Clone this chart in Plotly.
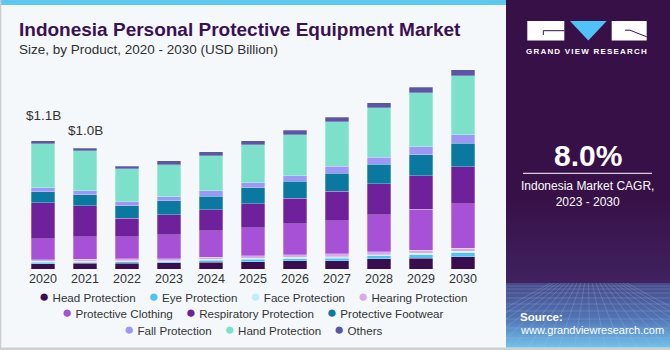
import base64
import plotly.graph_objects as go

# ---------------- data (USD Billion) ----------------
years = ["2020", "2021", "2022", "2023", "2024", "2025", "2026", "2027", "2028", "2029", "2030"]

head_protection = [0.046, 0.049, 0.049, 0.052, 0.058, 0.063, 0.069, 0.071, 0.086, 0.094, 0.106]
eye_protection = [0.012, 0.011, 0.014, 0.011, 0.017, 0.021, 0.020, 0.023, 0.026, 0.028, 0.032]
face_protection = [0.007, 0.008, 0.008, 0.009, 0.009, 0.010, 0.010, 0.011, 0.011, 0.012, 0.013]
hearing_protection = [0.015, 0.015, 0.015, 0.015, 0.017, 0.019, 0.022, 0.025, 0.026, 0.027, 0.029]
protective_clothing = [0.180, 0.192, 0.189, 0.209, 0.226, 0.243, 0.266, 0.284, 0.318, 0.352, 0.381]
respiratory_protection = [0.309, 0.269, 0.161, 0.172, 0.180, 0.204, 0.221, 0.255, 0.264, 0.287, 0.318]
protective_footwear = [0.095, 0.092, 0.106, 0.120, 0.120, 0.137, 0.146, 0.155, 0.168, 0.183, 0.200]
fall_protection = [0.032, 0.034, 0.034, 0.034, 0.043, 0.043, 0.048, 0.057, 0.060, 0.066, 0.075]
hand_protection = [0.381, 0.346, 0.284, 0.275, 0.301, 0.326, 0.352, 0.384, 0.424, 0.464, 0.504]
others = [0.023, 0.021, 0.023, 0.034, 0.037, 0.037, 0.038, 0.040, 0.043, 0.046, 0.054]

series_names = ["Head Protection", "Eye Protection", "Face Protection", "Hearing Protection",
                "Protective Clothing", "Respiratory Protection", "Protective Footwear",
                "Fall Protection", "Hand Protection", "Others"]
series_values = [head_protection, eye_protection, face_protection, hearing_protection,
                 protective_clothing, respiratory_protection, protective_footwear,
                 fall_protection, hand_protection, others]
series_colors = ["#3a0d4e", "#4ec5f1", "#c5eaf8", "#d8aaea", "#a651d6",
                 "#6f209b", "#0b799f", "#9d97f7", "#7de0ca", "#5a56a5"]

value_labels = {"2020": "$1.1B", "2021": "$1.0B"}
label_shift = {"2020": 16, "2021": 8}

title = "Indonesia Personal Protective Equipment Market"
subtitle = "Size, by Product, 2020 - 2030 (USD Billion)"
cagr_value = "8.0%"
cagr_text = "Indonesia Market CAGR,<br>2023 - 2030"

# ---------------- geometry helpers ----------------
W, H = 670, 350
L, R, T, B = 22, 186, 60, 81
PW, PH = W - L - R, H - T - B
FONT = "Liberation Sans, Arial, sans-serif"


def px(x):
    return (x - L) / PW


def py(y):
    return (H - B - y) / PH


fig = go.Figure()
for name, vals, col in zip(series_names, series_values, series_colors):
    fig.add_trace(go.Bar(
        x=years, y=vals, name=name, marker_color=col,
        marker_line=dict(color="rgba(255,255,255,0.45)", width=0.6),
        showlegend=False,
    ))

totals = [sum(v[i] for v in series_values) for i in range(len(years))]
annotations = []
for i, (yr, tot) in enumerate(zip(years, totals)):
    if yr in value_labels:
        annotations.append(dict(
            x=i, y=tot, xref="x", yref="y", text=value_labels[yr], showarrow=False,
            yanchor="bottom", yshift=label_shift[yr],
            font=dict(family=FONT, size=13.5, color="#333333")))

# title / subtitle
annotations.append(dict(x=px(17), y=py(29.5), xref="paper", yref="paper", text=f"<b>{title}</b>",
                        showarrow=False, xanchor="left", yanchor="middle",
                        font=dict(family=FONT, size=19, color="#3a1152")))
annotations.append(dict(x=px(17), y=py(49), xref="paper", yref="paper", text=subtitle,
                        showarrow=False, xanchor="left", yanchor="middle",
                        font=dict(family=FONT, size=13.5, color="#2f2f2f")))

# manual legend rows
nb = "\u00a0"
legend_rows = [[0, 1, 2, 3], [4, 5, 6], [7, 8, 9]]
row_y = [296.7, 312.7, 329]
for row, yy in zip(legend_rows, row_y):
    parts = [f"<span style='color:{series_colors[i]};font-size:17px'>\u25cf</span>{nb}{series_names[i]}"
             for i in row]
    annotations.append(dict(x=px(253), y=py(yy), xref="paper", yref="paper",
                            text=(nb * 4).join(parts), showarrow=False,
                            xanchor="center", yanchor="middle",
                            font=dict(family=FONT, size=11.6, color="#333333")))

# right panel texts
annotations += [
    dict(x=px(587), y=py(51), xref="paper", yref="paper",
         text="<span style='letter-spacing:1.2px'><b>GRAND VIEW RESEARCH</b></span>",
         showarrow=False, xanchor="center", yanchor="middle",
         font=dict(family=FONT, size=8, color="white")),
    dict(x=px(587.5), y=py(155.5), xref="paper", yref="paper", text=f"<b>{cagr_value}</b>",
         showarrow=False, xanchor="center", yanchor="middle",
         font=dict(family=FONT, size=30, color="white")),
    dict(x=px(587.5), y=py(193.5), xref="paper", yref="paper", text=cagr_text,
         showarrow=False, xanchor="center", yanchor="middle", align="center",
         font=dict(family=FONT, size=12, color="white")),
    dict(x=px(518), y=py(316.5), xref="paper", yref="paper", text="<b>Source:</b>",
         showarrow=False, xanchor="left", yanchor="middle",
         font=dict(family=FONT, size=11.5, color="white")),
    dict(x=px(518), y=py(329.5), xref="paper", yref="paper", text="www.grandviewresearch.com",
         showarrow=False, xanchor="left", yanchor="middle",
         font=dict(family=FONT, size=11, color="white")),
]

# ---------------- background artwork (SVG) ----------------
grid = []
for yy in [286, 289, 293, 298, 304, 311, 319, 328, 338]:
    grid.append(f"<line x1='506' y1='{yy}' x2='670' y2='{yy}'/>")
for xb in range(430, 760, 16):
    grid.append(f"<line x1='588' y1='262' x2='{xb}' y2='350'/>")
svg = f"""<svg xmlns='http://www.w3.org/2000/svg' width='{W}' height='{H}' viewBox='0 0 {W} {H}' preserveAspectRatio='none'>
<defs>
<linearGradient id='g1' x1='0' y1='0' x2='0' y2='1'>
<stop offset='0' stop-color='#381048'/><stop offset='0.70' stop-color='#381048'/>
<stop offset='1' stop-color='#40225f'/></linearGradient>
<linearGradient id='g2' x1='0' y1='0' x2='0' y2='1'>
<stop offset='0' stop-color='#474888'/><stop offset='0.55' stop-color='#5274b4'/>
<stop offset='1' stop-color='#72c2ec'/></linearGradient>
<clipPath id='cp'><rect x='506' y='283' width='164' height='64'/></clipPath>
</defs>
<rect x='0' y='0' width='{W}' height='{H}' fill='#f4f8fb'/>
<rect x='0' y='0' width='506' height='5' fill='#5dc9f1'/>
<rect x='0' y='0' width='1.3' height='{H}' fill='#cccccc'/>
<rect x='0' y='347.5' width='{W}' height='2.5' fill='#cfcfcf'/>
<rect x='506' y='0' width='164' height='283' fill='url(#g1)'/>
<rect x='506' y='283' width='164' height='64.5' fill='url(#g2)'/>
<g clip-path='url(#cp)' stroke='#a9c4ee' stroke-opacity='0.35' stroke-width='0.7'>{''.join(grid)}</g>
<rect x='527.3' y='21' width='37' height='19.5' fill='white'/>
<path d='M564.3,30.7 L543.3,30.7 L543.3,35' stroke='#381048' stroke-width='1' fill='none'/>
<polygon points='570,21 606.7,21 588.3,40.5' fill='#4fc3f7'/>
<rect x='611.7' y='21' width='35' height='19.5' fill='white'/>
<path d='M625,30.2 L630,30.2 L646.7,36.8' stroke='#381048' stroke-width='1' fill='none'/>
<line x1='523' y1='173.3' x2='652' y2='173.3' stroke='white' stroke-width='1'/>
</svg>"""
src = "data:image/svg+xml;base64," + base64.b64encode(svg.encode()).decode()

fig.update_layout(
    width=W, height=H, margin=dict(l=L, r=R, t=T, b=B, pad=0),
    barmode="stack", bargap=0.43,
    paper_bgcolor="#f4f8fb", plot_bgcolor="rgba(0,0,0,0)",
    showlegend=False,
    annotations=annotations,
    images=[dict(source=src, xref="paper", yref="paper", x=px(0), y=py(0),
                 sizex=W / PW, sizey=H / PH, xanchor="left", yanchor="top",
                 sizing="stretch", layer="below")],
    xaxis=dict(type="category", range=[-0.5, len(years) - 0.5], showgrid=False, zeroline=False,
               showline=False, ticks="",
               tickfont=dict(family=FONT, size=12.5, color="#333333"), fixedrange=True),
    yaxis=dict(range=[0, 1.795], visible=False, fixedrange=True),
)

fig.write_html("out.html", config={"displayModeBar": False})
